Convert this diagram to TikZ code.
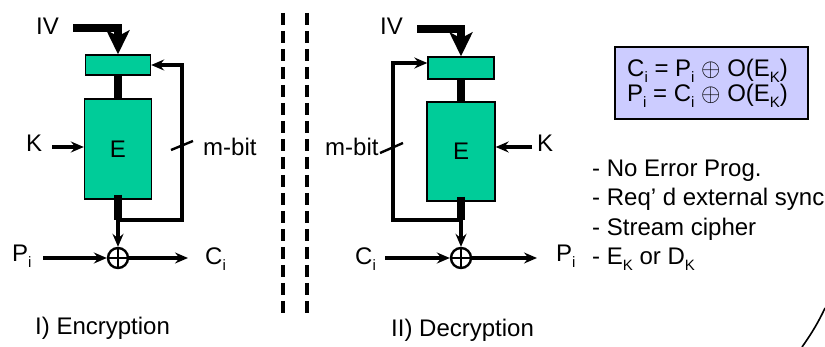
\documentclass[tikz,border=0pt]{standalone}
\usepackage{fontspec}
\setmainfont{Liberation Sans}
\usetikzlibrary{arrows.meta}
\definecolor{tealfill}{HTML}{00CC99}
\definecolor{lavfill}{HTML}{CCCCFF}
\newcommand\sbs[1]{\smash{\raisebox{-6pt}{\fontsize{15}{15}\selectfont #1}}}
\newcommand\xorsym{{\fontsize{25}{25}\selectfont$\oplus$}}
\begin{document}
\begin{tikzpicture}[x=1pt,y=-1pt,
  txt/.style={inner sep=0pt, font=\fontsize{24}{28}\selectfont},
  reg/.style={draw, line width=1.4pt, fill=tealfill, minimum width=65pt, minimum height=20pt, inner sep=0pt},
  ebox/.style={draw, line width=1.4pt, fill=tealfill, minimum width=67pt, minimum height=100pt, inner sep=0pt, font=\fontsize{24}{28}\selectfont},
  wire/.style={line width=3.2pt},
  arr/.style={wire, -{Stealth[length=13pt,width=11pt,inset=4.5pt]}},
  fat/.style={line width=7.5pt},
  fatarr/.style={line width=7.5pt, line join=miter, -{Stealth[length=24pt,width=23pt,inset=6pt]}},
  xor/.style={draw, circle, line width=2.4pt, minimum size=20pt, inner sep=0pt},
  tick/.style={line width=2.4pt},
  sep/.style={line width=3.4pt, dash pattern=on 12pt off 6pt},
]
\useasboundingbox (0,0) rectangle (825,347);

% ---------------- Encryption ----------------
\node[txt, anchor=base west] (ivA) at (36,35) {IV};
\coordinate (ivAs) at (73,28);
\node[reg] (regA) at (118,65) {};
\node[ebox] (EA) at (118,149) {E};
\draw[fatarr] (ivAs) -| (regA.north);
\draw[fat] (regA.south) -- (EA.north);
\coordinate (jA) at (118,220);
\coordinate (cA) at (182,220);
\draw[fat] ([yshift=5pt]EA.south) -- (jA);
\draw[arr] (jA) -- (cA) |- (regA.east);
\coordinate (tA1) at (171,150);
\coordinate (tA2) at (193,141);
\draw[tick] (tA1) -- (tA2);
\node[txt, anchor=base west] (mA) at (203,156) {m-bit};
\node[txt, anchor=base west] (kA) at (26,152) {K};
\coordinate (kAs) at (52,147);
\draw[arr] (kAs) -- (EA.west |- kAs);
\node[xor] (xA) at (118,258) {};
\draw[line width=2.4pt] (xA.north) -- (xA.south) (xA.west) -- (xA.east);
\draw[arr] (jA) -- (xA.north);
\node[txt, anchor=base west] (pA) at (12,262) {P\sbs{i}};
\coordinate (pAs) at (43,258);
\draw[arr] (pAs) -- (xA.west);
\node[txt, anchor=base west] (ciA) at (205,265) {C\sbs{i}};
\coordinate (ciAe) at (188,258);
\draw[arr] (xA.east) -- (ciAe);
\node[txt, anchor=base west] (capA) at (35,335) {I) Encryption};

% ---------------- separator ----------------
\coordinate (s1a) at (283,13); \coordinate (s1b) at (283,313);
\coordinate (s2a) at (307,13); \coordinate (s2b) at (307,313);
\draw[sep] (s1a) -- (s1b);
\draw[sep] (s2a) -- (s2b);

% ---------------- Decryption ----------------
\node[txt, anchor=base west] (ivB) at (380,35) {IV};
\coordinate (ivBs) at (417,29);
\node[reg, minimum width=66pt, minimum height=22pt] (regB) at (461,68) {};
\node[ebox, minimum width=68pt, minimum height=99pt] (EB) at (461,151.5) {E};
\draw[fatarr] (ivBs) -| (regB.north);
\draw[fat] (regB.south) -- (EB.north);
\coordinate (jB) at (461,220);
\coordinate (cB) at (393,220);
\coordinate (rB) at (393,63);
\draw[fat] ([yshift=5pt]EB.south) -- (jB);
\draw[arr] (jB) -- (cB) -- (rB) -- (regB.west |- rB);
\coordinate (tB1) at (380,153);
\coordinate (tB2) at (403,143);
\draw[tick] (tB1) -- (tB2);
\node[txt, anchor=base west] (mB) at (325,156) {m-bit};
\node[txt, anchor=base west] (kB) at (537,152) {K};
\coordinate (kBs) at (532,147);
\draw[arr] (kBs) -- (EB.east |- kBs);
\node[xor] (xB) at (461,258) {};
\draw[line width=2.4pt] (xB.north) -- (xB.south) (xB.west) -- (xB.east);
\draw[arr] (jB) -- (xB.north);
\node[txt, anchor=base west] (ciB) at (355,265) {C\sbs{i}};
\coordinate (ciBs) at (385,258);
\draw[arr] (ciBs) -- (xB.west);
\node[txt, anchor=base west] (pB) at (556,262) {P\sbs{i}};
\coordinate (pBe) at (537,258);
\draw[arr] (xB.east) -- (pBe);
\node[txt, anchor=base west] (capB) at (391,337) {II) Decryption};

% ---------------- equations box ----------------
\node[draw, line width=1.4pt, fill=lavfill, minimum width=193pt, minimum height=72pt, inner sep=0pt] (eqbox) at (711.5,83) {};
\node[txt, anchor=base west] (eq1) at (627,77) {C\sbs{i} = P\sbs{i} \xorsym{} O(E\sbs{K})};
\node[txt, anchor=base west] (eq2) at (627,102) {P\sbs{i} = C\sbs{i} \xorsym{} O(E\sbs{K})};

% ---------------- notes ----------------
\node[txt, anchor=base west] (n1) at (592,177) {- No Error Prog.};
\node[txt, anchor=base west] (n2) at (592,206) {- Req’ d external sync};
\node[txt, anchor=base west] (n3) at (592,236) {- Stream cipher};
\node[txt, anchor=base west] (n4) at (592,265) {- E\sbs{K} or D\sbs{K}};

% ---------------- corner curve ----------------
\draw[line width=1.6pt] (802,347) .. controls (812,333) and (819,321) .. (825,308);
\end{tikzpicture}
\end{document}
